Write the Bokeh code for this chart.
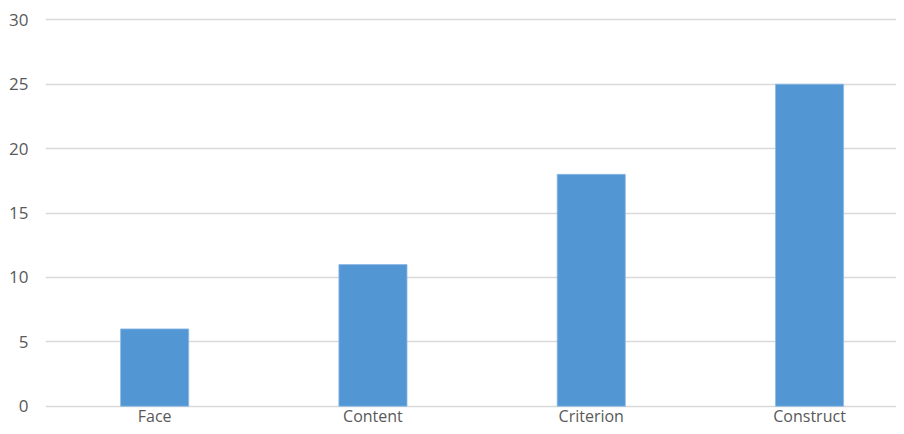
from bokeh.plotting import figure
from bokeh.models import Range1d, FixedTicker, ColumnDataSource
from bokeh.core.properties import value
from bokeh.embed import file_html
from bokeh.resources import INLINE

categories = ["Face", "Content", "Criterion", "Construct"]
values = [6, 11, 18, 25]
y_ticks = [0, 5, 10, 15, 20, 25, 30]

W, H = 896, 426
left = 45
unit_x = 218.3
y_top_px, y_zero_px = 19.3, 405.7
unit_y = (y_zero_px - y_top_px) / 30.0

x_end = (W - left) / unit_x
y_start = -(H - y_zero_px) / unit_y
y_end = 30 + y_top_px / unit_y
label_px = 415.5

xpos = [i + 0.5 for i in range(len(categories))]
source = ColumnDataSource(dict(x=xpos, top=values, cat=categories,
                               ly=[-(label_px - y_zero_px) / unit_y] * len(categories)))

p = figure(width=W, height=H, output_backend="svg", toolbar_location=None,
           x_range=Range1d(0, x_end), y_range=Range1d(y_start, y_end),
           min_border_left=left, min_border_right=0, min_border_top=0, min_border_bottom=0)
p.outline_line_color = None
p.background_fill_color = "white"
p.border_fill_color = "white"

p.ygrid.grid_line_color = "#D9D9D9"
p.ygrid.grid_line_width = 1.3
p.ygrid.ticker = FixedTicker(ticks=y_ticks)
p.xgrid.grid_line_color = None

p.vbar(x="x", top="top", width=0.312, bottom=0, source=source,
       fill_color="#5296D3", line_color="#8DB9E4", line_width=0.8)

p.text(x="x", y="ly", text="cat", source=source, text_align="center",
       text_baseline="middle", text_font=value("Open Sans"),
       text_font_size="16px", text_color="#595959")

p.xaxis.visible = False
yax = p.yaxis[0]
yax.ticker = FixedTicker(ticks=y_ticks)
yax.axis_line_color = None
yax.major_tick_line_color = None
yax.minor_tick_line_color = None
yax.major_tick_in = 0
yax.major_tick_out = 0
yax.major_label_text_font = "Open Sans"
yax.major_label_text_font_size = "17px"
yax.major_label_text_color = "#595959"
yax.major_label_standoff = 17

open("out.html", "w").write(file_html(p, INLINE))
